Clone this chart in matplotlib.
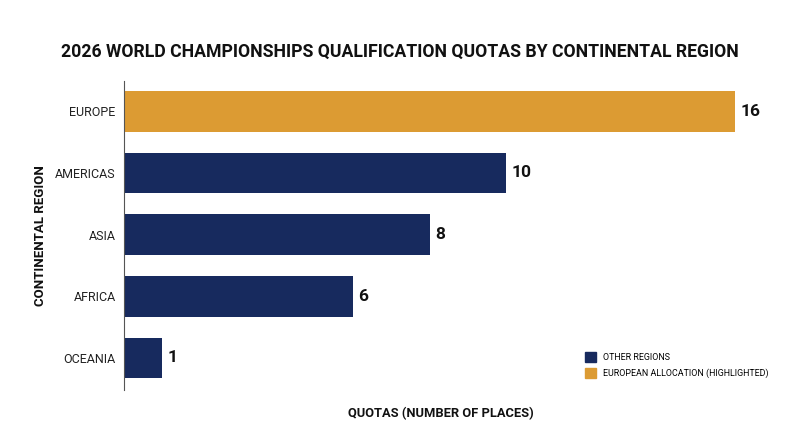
import matplotlib
matplotlib.use("Agg")
import matplotlib.pyplot as plt
from matplotlib.patches import Patch

plt.rcParams['font.family'] = ['Roboto', 'DejaVu Sans']

regions = ["EUROPE", "AMERICAS", "ASIA", "AFRICA", "OCEANIA"]
quotas = [16, 10, 8, 6, 1]
highlight = ["EUROPE"]
navy = "#172A5E"
gold = "#DC9B33"

fig = plt.figure(figsize=(8, 4.47), dpi=100)
ax = fig.add_axes([0.155, 0.1275, 0.7925, 0.691])

colors = [gold if r in highlight else navy for r in regions]
ypos = list(range(len(regions)))
ax.barh(ypos, quotas, height=0.66, color=colors)
for y, v in zip(ypos, quotas):
    ax.text(v + 0.14, y, str(v), va="center", ha="left", fontsize=12.5,
            fontweight="bold", color="#111111")

ax.set_yticks(ypos)
ax.set_yticklabels(regions, fontsize=9, color="#222222")
ax.set_ylim(4.52, -0.49)
ax.set_xlim(0, 16.6)
ax.set_xticks([])
ax.tick_params(axis="y", length=0, pad=6)
for s in ["top", "right", "bottom"]:
    ax.spines[s].set_visible(False)
ax.spines["left"].set_color("#555555")
ax.spines["left"].set_linewidth(0.8)

ax.set_xlabel("QUOTAS (NUMBER OF PLACES)", fontsize=9.3, fontweight="bold",
              labelpad=12, color="#111111")
ax.set_ylabel("CONTINENTAL REGION", fontsize=9.5, fontweight="bold",
              color="#111111")
ax.yaxis.set_label_coords(-0.122, 0.5)
fig.suptitle("2026 WORLD CHAMPIONSHIPS QUALIFICATION QUOTAS BY CONTINENTAL REGION",
             fontsize=12.7, fontweight="bold", y=0.905, x=0.5, color="#111111")

handles = [Patch(color=navy, label="OTHER REGIONS"),
           Patch(color=gold, label="EUROPEAN ALLOCATION (HIGHLIGHTED)")]
ax.legend(handles=handles, loc="lower left", bbox_to_anchor=(0.714, 0.012),
          frameon=False, fontsize=6.4, handlelength=1.3, handleheight=1.3,
          handletextpad=0.8, labelspacing=0.75)

fig.savefig("out.png", dpi=100)
